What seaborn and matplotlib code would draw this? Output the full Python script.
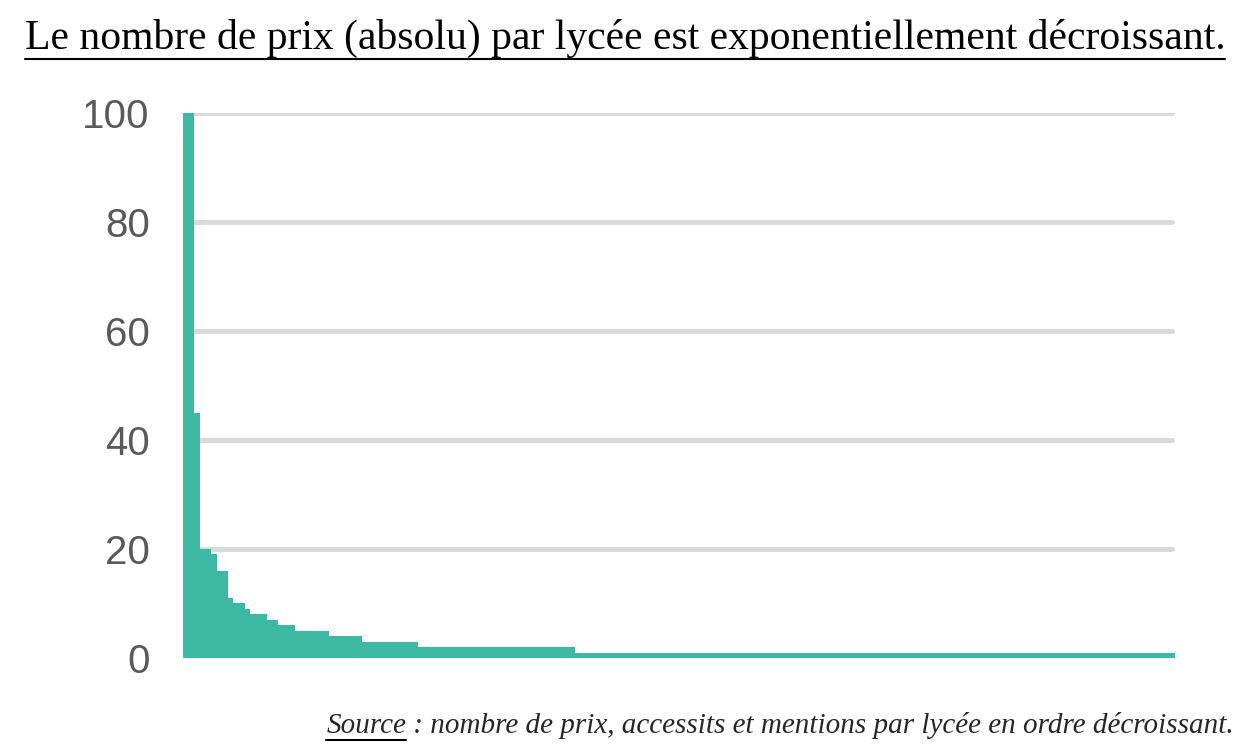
import matplotlib
matplotlib.use("Agg")
import matplotlib.pyplot as plt
import seaborn as sns
import numpy as np
import pandas as pd
from matplotlib.lines import Line2D

levels = [100, 45, 20, 19, 16, 11, 10, 9, 8, 7, 6, 5, 4, 3, 2, 1]
counts = [2, 1, 2, 1, 2, 1, 2, 1, 3, 2, 3, 6, 6, 10, 28, 107]
yticks = [0, 20, 40, 60, 80, 100]

values = np.repeat(levels, counts)
df = pd.DataFrame({"rank": np.arange(len(values)), "prix": values})

sns.set_theme(style="white")
fig = plt.figure(figsize=(12.5, 7.52), dpi=100)
ax = fig.add_axes([0.1464, 0.125, 0.7936, 0.725])
for y in yticks:
    ax.axhline(y, color="#d9d9d9", lw=3.5, zorder=0, xmax=0.997)
sns.barplot(data=df, x="rank", y="prix", color="#3db8a2", width=1.0,
            saturation=1, edgecolor="none", linewidth=0, ax=ax, zorder=2)
ax.set_xlim(-0.5, len(values) - 0.5)
ax.set_ylim(0, 100)
ax.set_yticks(yticks)
ax.set_yticklabels([str(t) for t in yticks], fontsize=29, color="#595959", family="Liberation Sans")
ax.tick_params(axis="y", length=0, pad=24)
ax.set_xticks([])
ax.set_xlabel(""); ax.set_ylabel("")
for s in ax.spines.values():
    s.set_visible(False)

fig.canvas.draw()
r = fig.canvas.get_renderer()

def underline(t, fig):
    bb = t.get_window_extent(renderer=r)
    W, H = fig.bbox.width, fig.bbox.height
    yy = (bb.y0 - 1) / H
    fig.add_artist(Line2D([bb.x0 / W, bb.x1 / W], [yy, yy], color="black", lw=1.5))
    return bb

title = fig.text(0.5, 0.935, "Le nombre de prix (absolu) par lycée est exponentiellement décroissant.",
                 ha="center", va="baseline", fontsize=30, family="Liberation Serif", color="black")
underline(title, fig)

src = fig.text(0.987, 0.025, " : nombre de prix, accessits et mentions par lycée en ordre décroissant.",
               ha="right", va="baseline", fontsize=21, family="Liberation Serif", style="italic")
fig.canvas.draw()
bb = src.get_window_extent(renderer=r)
s2 = fig.text(bb.x0 / fig.bbox.width, 0.025, "Source", ha="right", va="baseline",
              fontsize=21, family="Liberation Serif", style="italic")
fig.canvas.draw()
underline(s2, fig)

fig.savefig("out.png", dpi=100)
